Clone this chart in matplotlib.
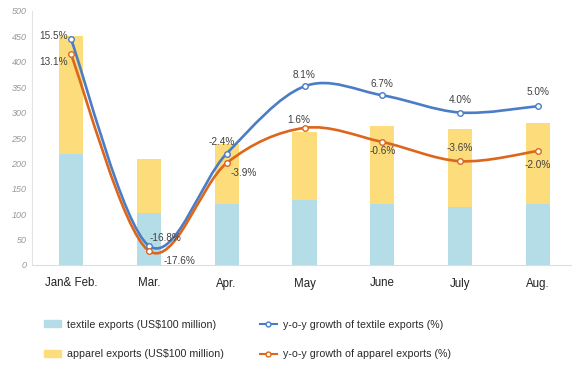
import matplotlib.pyplot as plt
import numpy as np
from matplotlib.path import Path
from matplotlib.patches import PathPatch
from matplotlib.lines import Line2D
from matplotlib.patches import Patch

plt.rcParams['font.family'] = ['Liberation Sans', 'DejaVu Sans']

# data
months = ["Jan& Feb.", "Mar.", "Apr.", "May", "June", "July", "Aug."]
textile = [218, 103, 121, 128, 121, 115, 121]
apparel = [232, 105, 117, 133, 152, 152, 158]
textile_growth = [15.5, -16.8, -2.4, 8.1, 6.7, 4.0, 5.0]
apparel_growth = [13.1, -17.6, -3.9, 1.6, -0.6, -3.6, -2.0]

c_textile = "#b4dde8"
c_apparel = "#fddc7c"
c_tline = "#4a7dc6"
c_aline = "#dc661c"


def smooth_path(xs, ys):
    # Catmull-Rom curve as cubic bezier segments (like Excel's smoothed line)
    p = np.column_stack([xs, ys]).astype(float)
    pts = np.vstack([p[0], p, p[-1]])
    verts = [p[0]]
    codes = [Path.MOVETO]
    for i in range(1, len(pts) - 2):
        p0, p1, p2, p3 = pts[i - 1], pts[i], pts[i + 1], pts[i + 2]
        verts += [p1 + (p2 - p0) / 6, p2 - (p3 - p1) / 6, p2]
        codes += [Path.CURVE4] * 3
    return Path(verts, codes)


fig = plt.figure(figsize=(5.72, 3.68), dpi=100)
ax = fig.add_axes([32 / 572, 103 / 368, 545 / 572, 254 / 368])
x = np.arange(len(months))

ax.bar(x, textile, width=0.31, color=c_textile, zorder=1)
ax.bar(x, apparel, width=0.31, bottom=textile, color=c_apparel, zorder=1)
ax.set_xlim(-0.5, 6.5)
ax.set_ylim(0, 500)
ax.set_yticks(range(0, 501, 50))
ax.tick_params(axis='y', length=0, labelsize=6.5, labelcolor="#999999", pad=4)
for t in ax.get_yticklabels():
    t.set_fontstyle("italic")
ax.set_xticks(x)
ax.set_xticklabels(months)
ax.tick_params(axis='x', length=0, labelsize=8.3, labelcolor="#222222", pad=9)
for s in ["top", "right"]:
    ax.spines[s].set_visible(False)
ax.spines["left"].set_color("#e3e3e3")
ax.spines["bottom"].set_color("#dddddd")

# growth lines on hidden secondary axis
ax2 = ax.twinx()
ax2.set_ylim(-19.82, 19.87)
ax2.axis("off")

for g, col in [(textile_growth, c_tline), (apparel_growth, c_aline)]:
    ax2.add_patch(PathPatch(smooth_path(x, g), fill=False, edgecolor=col, lw=1.9, zorder=3))
    ax2.plot(x, g, ls="none", marker="o", ms=4, mfc="white", mec=col, mew=1, zorder=4)

lab = dict(fontsize=7.2, color="#404040", textcoords="offset pixels")
# label offsets (px) and alignment per point
t_off = [(-3, 3, "right", "center"), (1, 8, "left", "center"), (-5, 12, "center", "center"),
         (0, 11, "center", "center"), (0, 11, "center", "center"), (0, 13, "center", "center"),
         (0, 14, "center", "center")]
a_off = [(-3, -8, "right", "center"), (15, -10, "left", "center"), (4, -10, "left", "center"),
         (-6, 8, "center", "center"), (0, -9, "center", "center"), (0, 13, "center", "center"),
         (0, -14, "center", "center")]
for vals, offs in [(textile_growth, t_off), (apparel_growth, a_off)]:
    for i, (v, (dx, dy, ha, va)) in enumerate(zip(vals, offs)):
        ax2.annotate(f"{v:.1f}%", (i, v), xytext=(dx, dy), ha=ha, va=va, zorder=5, **lab)

handles = [Patch(color=c_textile), Patch(color=c_apparel),
           Line2D([], [], color=c_tline, marker="o", ms=3.5, mfc="white", lw=1.5),
           Line2D([], [], color=c_aline, marker="o", ms=3.5, mfc="white", lw=1.5)]
labels = ["textile exports (US$100 million)", "apparel exports (US$100 million)",
          "y-o-y growth of textile exports (%)", "y-o-y growth of apparel exports (%)"]
fig.legend(handles, labels, ncol=2, loc="upper left", bbox_to_anchor=(34 / 572, 1 - 310 / 368),
           frameon=False, fontsize=7.7, labelcolor="#2a2a2a", handlelength=1.6,
           handleheight=0.6, labelspacing=1.85, columnspacing=3.4, handletextpad=0.55)

fig.savefig("out.png", dpi=100)
